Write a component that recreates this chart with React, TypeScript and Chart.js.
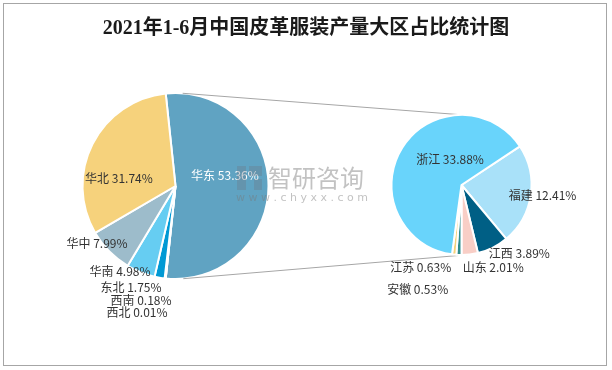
import React, { useEffect, useRef } from "react";
import { Chart, registerables } from "chart.js";

Chart.register(...registerables);

const TITLE = "2021年1-6月中国皮革服装产量大区占比统计图";

// Left pie (regions), clockwise from the split slice
const regionLabels = ["华东", "西北", "西南", "东北", "华南", "华中", "华北"];
const regionValues = [53.36, 0.01, 0.18, 1.75, 4.98, 7.99, 31.74];
const regionColors = ["#60a3c2", "#2b6f8f", "#4a90b8", "#0099d4", "#66cdf2", "#9dbccb", "#f6d27c"];

// Right pie (provinces inside 华东), clockwise
const provinceLabels = ["福建", "江西", "山东", "江苏", "安徽", "浙江"];
const provinceValues = [12.41, 3.89, 2.01, 0.63, 0.53, 33.88];
const provinceColors = ["#a9e1f9", "#005f85", "#f8cec6", "#2f8c8c", "#f6d27c", "#69d4fb"];

const W = 612;
const H = 370;
const LABEL_FONT = '12px "Noto Sans CJK SC", "Noto Sans", sans-serif';
const TEXT_COLOR = "#333333";

// label anchor offsets in units of the pie radius (relative to the pie centre)
const regionLabelPos = [
  [0.532, -0.118],
  [-0.414, 1.355],
  [-0.371, 1.226],
  [-0.478, 1.086],
  [-0.597, 0.914],
  [-0.844, 0.613],
  [-0.608, -0.086],
];
const provinceLabelPos = [
  [1.158, 0.144],
  [0.827, 0.978],
  [0.453, 1.18],
  [-0.583, 1.18],
  [-0.626, 1.496],
  [-0.164, -0.371],
];

function sum(a: number[]) {
  return a.reduce((s, v) => s + v, 0);
}

function labelPlugin(id: string, labels: string[], values: number[], pos: number[][], colors: string[]) {
  return {
    id,
    afterDatasetsDraw(chart: any) {
      const ctx = chart.ctx;
      const meta = chart.getDatasetMeta(0);
      ctx.save();
      ctx.font = LABEL_FONT;
      ctx.textAlign = "center";
      ctx.textBaseline = "middle";
      meta.data.forEach((arc: any, i: number) => {
        const r = arc.outerRadius;
        const x = arc.x + pos[i][0] * r;
        const y = arc.y + pos[i][1] * r;
        ctx.fillStyle = colors[i];
        ctx.fillText(`${labels[i]} ${values[i].toFixed(2)}%`, x, y);
      });
      ctx.restore();
    },
  };
}

export default function App() {
  const leftRef = useRef<HTMLCanvasElement>(null);
  const rightRef = useRef<HTMLCanvasElement>(null);

  useEffect(() => {
    if (!leftRef.current || !rightRef.current) return;
    const regionTotal = sum(regionValues);
    const provinceTotal = sum(provinceValues);

    const framePlugin = {
      id: "frame",
      beforeDraw(chart: any) {
        const ctx = chart.ctx;
        ctx.save();
        ctx.fillStyle = "#ffffff";
        ctx.fillRect(0, 0, W, H);
        ctx.strokeStyle = "#a6a6a6";
        ctx.lineWidth = 1;
        ctx.strokeRect(3.5, 3.5, 603, 362);
        ctx.fillStyle = "#1a1a1a";
        ctx.font = 'bold 20px "Liberation Serif", "Noto Sans CJK SC", serif';
        ctx.textAlign = "center";
        ctx.textBaseline = "middle";
        ctx.fillText(TITLE, 306, 29);
        ctx.restore();
      },
    };

    const leftChart = new Chart(leftRef.current, {
      type: "pie",
      data: {
        labels: regionLabels,
        datasets: [
          {
            data: regionValues,
            backgroundColor: regionColors,
            borderColor: "#ffffff",
            borderWidth: 2,
            radius: 93,
          } as any,
        ],
      },
      options: {
        responsive: false,
        animation: false,
        rotation: 90 - (regionValues[0] / regionTotal) * 180,
        layout: { padding: { left: 50, right: 311, top: 60, bottom: 58 } },
        plugins: { legend: { display: false }, tooltip: { enabled: false }, title: { display: false } },
      },
      plugins: [
        framePlugin,
        labelPlugin(
          "leftLabels",
          regionLabels,
          regionValues,
          regionLabelPos,
          regionLabels.map((_, i) => (i === 0 ? "#ffffff" : TEXT_COLOR))
        ),
      ],
    });

    const first3 = provinceValues[0] + provinceValues[1] + provinceValues[2];

    const connectorPlugin = {
      id: "connector",
      beforeDatasetsDraw(chart: any) {
        const a = leftChart.getDatasetMeta(0).data[0] as any;
        const b = chart.getDatasetMeta(0).data[0] as any;
        if (!a || !b) return;
        const r1 = a.outerRadius;
        const r2 = b.outerRadius;
        const dx = b.x - a.x;
        const dy = b.y - a.y;
        const D = Math.hypot(dx, dy);
        const ux = dx / D;
        const uy = dy / D;
        const px = -uy;
        const py = ux;
        const k = (r1 - r2) / D;
        const m = Math.sqrt(1 - k * k);
        const ctx = chart.ctx;
        ctx.save();
        ctx.strokeStyle = "#a6a6a6";
        ctx.lineWidth = 1;
        [-1, 1].forEach((s) => {
          const nx = k * ux + s * m * px;
          const ny = k * uy + s * m * py;
          ctx.beginPath();
          ctx.moveTo(a.x + r1 * nx, a.y + r1 * ny);
          ctx.lineTo(b.x + r2 * nx, b.y + r2 * ny);
          ctx.stroke();
        });
        ctx.restore();
      },
    };

    const watermarkPlugin = {
      id: "watermark",
      afterDraw(chart: any) {
        const ctx = chart.ctx;
        ctx.save();
        ctx.fillStyle = "rgba(110,120,135,0.35)";
        ctx.fillRect(237, 166, 9, 24);
        ctx.fillRect(249, 166, 13, 10);
        ctx.fillRect(254, 179, 8, 11);
        ctx.fillStyle = "rgba(120,120,120,0.45)";
        ctx.font = '24px "Noto Sans CJK SC", sans-serif';
        ctx.textAlign = "left";
        ctx.textBaseline = "middle";
        ctx.fillText("智研咨询", 268, 178);
        ctx.font = '11px "DejaVu Sans", sans-serif';
        ctx.fillText("w w w . c h y x x . c o m", 236, 198);
        ctx.restore();
      },
    };

    const rightChart = new Chart(rightRef.current, {
      type: "pie",
      data: {
        labels: provinceLabels,
        datasets: [
          {
            data: provinceValues,
            backgroundColor: provinceColors,
            borderColor: "#ffffff",
            borderWidth: 2,
            radius: 70,
          } as any,
        ],
      },
      options: {
        responsive: false,
        animation: false,
        rotation: 180 - (first3 / provinceTotal) * 360,
        layout: { padding: { left: 380, right: 69, top: 100, bottom: 100 } },
        plugins: { legend: { display: false }, tooltip: { enabled: false }, title: { display: false } },
      },
      plugins: [
        connectorPlugin,
        labelPlugin("rightLabels", provinceLabels, provinceValues, provinceLabelPos, provinceLabels.map(() => TEXT_COLOR)),
        watermarkPlugin,
      ],
    });

    return () => {
      rightChart.destroy();
      leftChart.destroy();
    };
  }, []);

  return (
    <div style={{ position: "absolute", left: 0, top: 0, width: W, height: H }}>
      <canvas ref={leftRef} width={W} height={H} style={{ position: "absolute", left: 0, top: 0 }} />
      <canvas ref={rightRef} width={W} height={H} style={{ position: "absolute", left: 0, top: 0 }} />
    </div>
  );
}
